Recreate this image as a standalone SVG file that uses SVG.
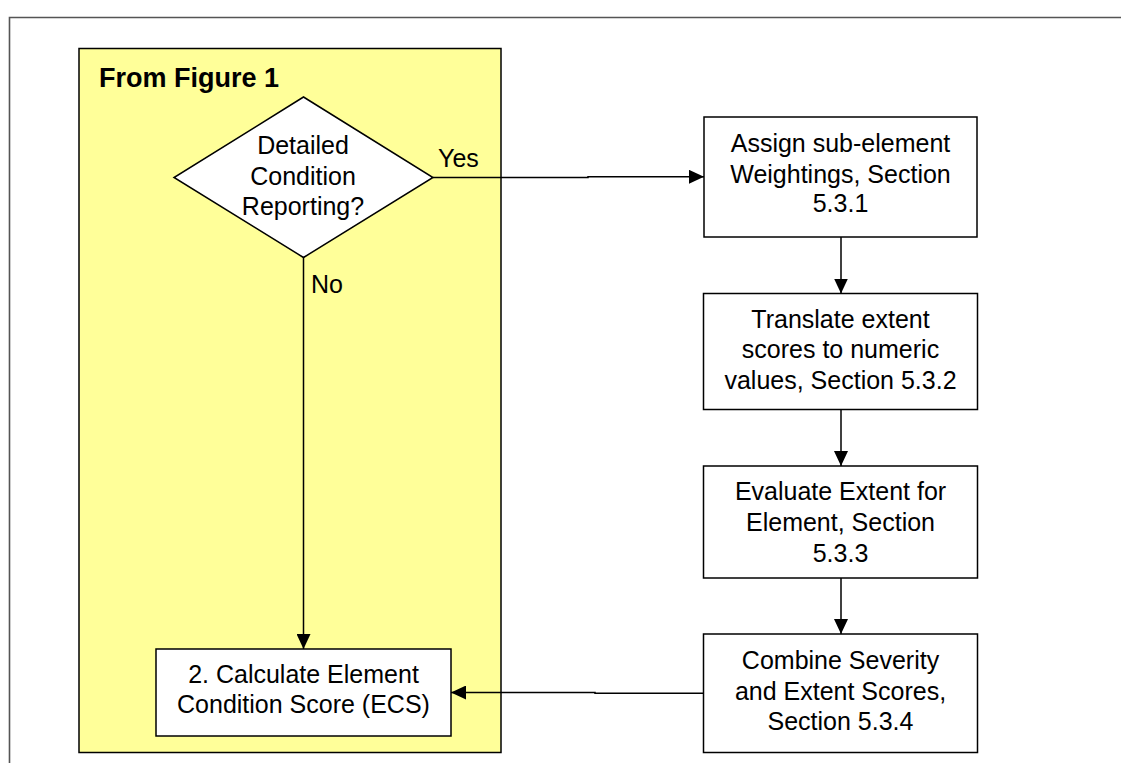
<svg xmlns="http://www.w3.org/2000/svg" width="1121" height="763" viewBox="0 0 1121 763">
<style>
.t{font-family:"Liberation Sans",Arial,sans-serif;font-size:25px;fill:#000;text-anchor:middle}
.box{fill:#fff;stroke:#000;stroke-width:1.5}
.ln{fill:none;stroke:#000;stroke-width:1.5}
.lbl{font-family:"Liberation Sans",Arial,sans-serif;font-size:25px;fill:#000}
</style>
<defs>
<marker id="ah" markerWidth="15" markerHeight="14" refX="15" refY="7" orient="auto" markerUnits="userSpaceOnUse">
<path d="M0,0 L15,7 L0,14 Z" fill="#000"/>
</marker>
</defs>
<rect width="1121" height="763" fill="#fff"/>
<g id="frame">
<path d="M9.5,763 V17.5 H1121" fill="none" stroke="#555" stroke-width="1.6"/>
</g>
<g id="panel">
<rect x="79" y="48.5" width="422" height="704" fill="#FFFF99" stroke="#000" stroke-width="1.5"/>
<text x="99" y="87" font-family="'Liberation Sans',Arial,sans-serif" font-size="27" font-weight="bold">From Figure 1</text>
</g>
<g id="decision">
<polygon points="303.5,97 433,177.5 303.5,257.5 174,177.5" class="box"/>
<text class="t"><tspan x="303" y="154">Detailed</tspan><tspan x="303" y="185">Condition</tspan><tspan x="303" y="215">Reporting?</tspan></text>
</g>
<g id="box1">
<rect x="704" y="117" width="273" height="120" class="box"/>
<text class="t"><tspan x="840.5" y="152">Assign sub-element</tspan><tspan x="840.5" y="183">Weightings, Section</tspan><tspan x="840.5" y="212">5.3.1</tspan></text>
</g>
<g id="box2">
<rect x="703.5" y="293.5" width="274" height="116" class="box"/>
<text class="t"><tspan x="840.5" y="328">Translate extent</tspan><tspan x="840.5" y="358">scores to numeric</tspan><tspan x="840.5" y="389">values, Section 5.3.2</tspan></text>
</g>
<g id="box3">
<rect x="703.5" y="466" width="274" height="112" class="box"/>
<text class="t"><tspan x="840.5" y="500">Evaluate Extent for</tspan><tspan x="840.5" y="531">Element, Section</tspan><tspan x="840.5" y="562">5.3.3</tspan></text>
</g>
<g id="box4">
<rect x="703.5" y="634" width="274" height="118.5" class="box"/>
<text class="t"><tspan x="840.5" y="669">Combine Severity</tspan><tspan x="840.5" y="700">and Extent Scores,</tspan><tspan x="840.5" y="730">Section 5.3.4</tspan></text>
</g>
<g id="ecs">
<rect x="156" y="649" width="295" height="87" class="box"/>
<text class="t"><tspan x="303.5" y="683">2. Calculate Element</tspan><tspan x="303.5" y="713">Condition Score (ECS)</tspan></text>
</g>
<g id="connectors">
<path d="M433,177.5 H588 V176.8 H704" class="ln" marker-end="url(#ah)"/>
<text class="lbl" x="438" y="167">Yes</text>
<path d="M303.5,257.5 V649" class="ln" marker-end="url(#ah)"/>
<text class="lbl" x="311" y="293">No</text>
<path d="M841,237 V293.5" class="ln" marker-end="url(#ah)"/>
<path d="M841,409.5 V466" class="ln" marker-end="url(#ah)"/>
<path d="M841,578 V634" class="ln" marker-end="url(#ah)"/>
<path d="M703.5,693.3 H595 V692.5 H451" class="ln" marker-end="url(#ah)"/>
</g>
</svg>
